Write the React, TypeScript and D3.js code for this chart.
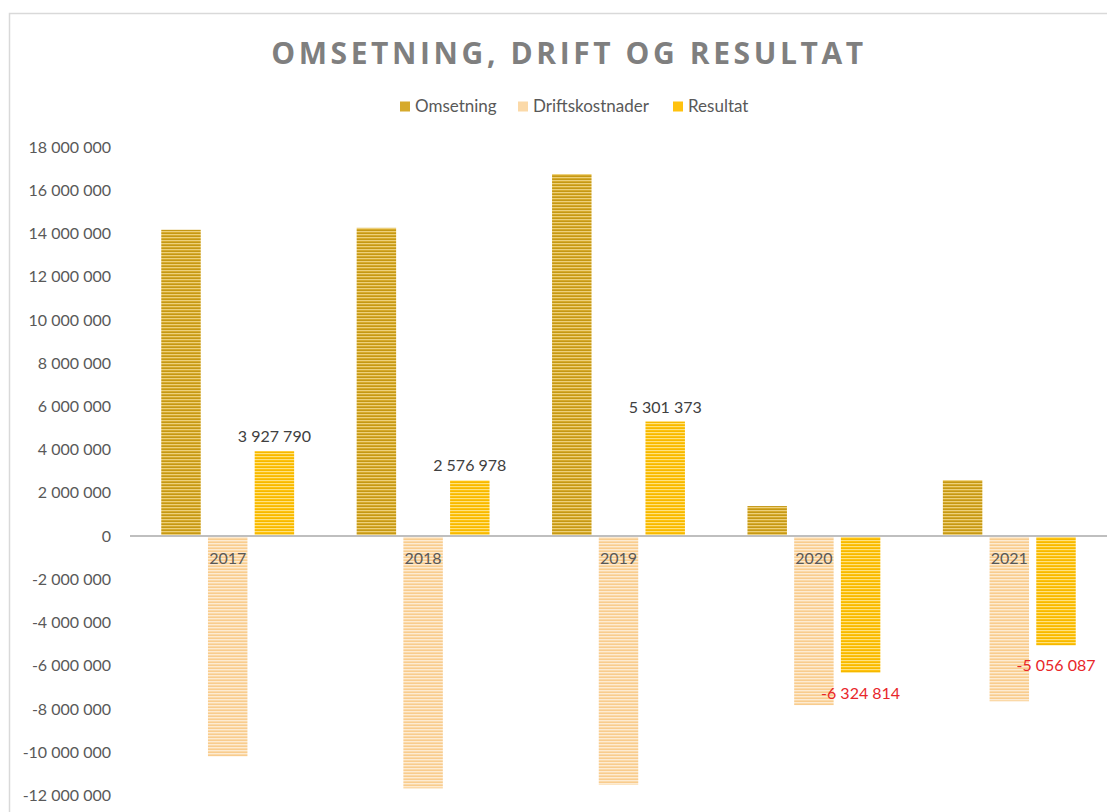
import React, { useEffect, useRef } from 'react';
import * as d3 from 'd3';

const years = ['2017', '2018', '2019', '2020', '2021'];
const seriesNames = ['Omsetning', 'Driftskostnader', 'Resultat'];
const omsetning = [14170000, 14260000, 16750000, 1390000, 2590000];
const driftskostnader = [-10190000, -11670000, -11500000, -7820000, -7640000];
const resultat = [3927790, 2576978, 5301373, -6324814, -5056087];
const yTicks = [18, 16, 14, 12, 10, 8, 6, 4, 2, 0, -2, -4, -6, -8, -10, -12].map(d => d * 1000000);

const colors = [
  { base: '#D6AA2C', stripe: '#EDD07A', dark: '#C49815' },
  { base: '#FBD9A8', stripe: '#FDEBD2', dark: '#F8CC8E' },
  { base: '#FFC20E', stripe: '#FFE27F', dark: '#F5B800' },
];

const fmt = (v: number) => {
  const s = Math.abs(Math.round(v)).toString().replace(/\B(?=(\d{3})+(?!\d))/g, ' ');
  return (v < 0 ? '-' : '') + s;
};

const App = () => {
  const svgRef = useRef<SVGSVGElement>(null);

  useEffect(() => {
    const svg = d3.select(svgRef.current);
    svg.selectAll('*').remove();

    const W = 1115;
    const H = 812;
    const plot = { left: 130, right: 1107 };
    const font = 'Lato, "Open Sans", sans-serif';

    // patterns for the striped bars
    const defs = svg.append('defs');
    colors.forEach((c, i) => {
      const p = defs.append('pattern')
        .attr('id', `stripe${i}`)
        .attr('patternUnits', 'userSpaceOnUse')
        .attr('width', 8)
        .attr('height', 3);
      p.append('rect').attr('width', 8).attr('height', 3).attr('fill', c.base);
      p.append('rect').attr('y', 0).attr('width', 8).attr('height', 1).attr('fill', c.stripe);
      p.append('rect').attr('y', 2).attr('width', 8).attr('height', 1).attr('fill', c.dark);
    });

    svg.append('rect').attr('width', W).attr('height', H).attr('fill', '#fff');

    // chart border (top and left visible)
    svg.append('path')
      .attr('d', `M9.5,${H} V13.5 H${plot.right}`)
      .attr('fill', 'none')
      .attr('stroke', '#d9d9d9')
      .attr('stroke-width', 1.5);

    // title
    svg.append('text')
      .attr('x', 569)
      .attr('y', 64)
      .attr('text-anchor', 'middle')
      .style('font-family', '"Open Sans", sans-serif')
      .style('font-weight', 700)
      .style('font-size', '30px')
      .style('letter-spacing', '3.6px')
      .style('fill', '#7f7f7f')
      .text('OMSETNING, DRIFT OG RESULTAT');

    const x0 = d3.scaleBand<string>().domain(years).range([plot.left, plot.right]).padding(0);
    const clusterW = x0.bandwidth() * 0.68;
    const x1 = d3.scaleBand<string>().domain(seriesNames).range([0, clusterW]).paddingInner(0.155).paddingOuter(0);

    const y = d3.scaleLinear()
      .domain([-12000000, 18000000])
      .range([795.5, 147]);

    // y axis labels
    svg.append('g')
      .selectAll('text')
      .data(yTicks)
      .enter().append('text')
      .attr('x', 111)
      .attr('y', d => y(d))
      .attr('dy', '0.35em')
      .attr('text-anchor', 'end')
      .style('font-family', font)
      .style('font-size', '16px')
      .style('fill', '#595959')
      .text(d => fmt(d));

    const allSeries = [omsetning, driftskostnader, resultat];

    allSeries.forEach((vals, si) => {
      svg.append('g')
        .selectAll('rect')
        .data(vals)
        .enter().append('rect')
        .attr('x', (d, i) => (x0(years[i]) as number) + (x0.bandwidth() - clusterW) / 2 + (x1(seriesNames[si]) as number))
        .attr('y', d => y(Math.max(0, d)))
        .attr('width', x1.bandwidth())
        .attr('height', d => Math.abs(y(d) - y(0)))
        .attr('fill', `url(#stripe${si})`);
    });

    // zero line
    svg.append('line')
      .attr('x1', plot.left)
      .attr('x2', plot.right)
      .attr('y1', y(0))
      .attr('y2', y(0))
      .attr('stroke', '#bfbfbf')
      .attr('stroke-width', 2);

    // category labels
    svg.append('g')
      .selectAll('text')
      .data(years)
      .enter().append('text')
      .attr('x', d => (x0(d) as number) + x0.bandwidth() / 2)
      .attr('y', y(0) + 28)
      .attr('text-anchor', 'middle')
      .style('font-family', font)
      .style('font-size', '16px')
      .style('fill', '#595959')
      .text(d => d);

    // data labels for Resultat
    svg.append('g')
      .selectAll('text')
      .data(resultat)
      .enter().append('text')
      .attr('x', (d, i) => (x0(years[i]) as number) + (x0.bandwidth() - clusterW) / 2 + (x1('Resultat') as number) + x1.bandwidth() / 2)
      .attr('y', d => d >= 0 ? y(d) - 9 : y(d) + 26)
      .attr('text-anchor', 'middle')
      .style('font-family', font)
      .style('font-size', '16px')
      .style('fill', d => d >= 0 ? '#404040' : '#e8262a')
      .text(d => fmt(d));

    // legend
    const legendX = [400, 518, 673];
    const legend = svg.append('g');
    seriesNames.forEach((name, i) => {
      legend.append('rect')
        .attr('x', legendX[i])
        .attr('y', 101.5)
        .attr('width', 10)
        .attr('height', 10)
        .attr('fill', colors[i].base);
      legend.append('text')
        .attr('x', legendX[i] + 15)
        .attr('y', 106.5)
        .attr('dy', '0.35em')
        .style('font-family', font)
        .style('font-size', '17px')
        .style('fill', '#595959')
        .text(name);
    });
  }, []);

  return (
    <svg ref={svgRef} width={1115} height={812} style={{ position: 'absolute', left: 0, top: 0 }} />
  );
};

export default App;
